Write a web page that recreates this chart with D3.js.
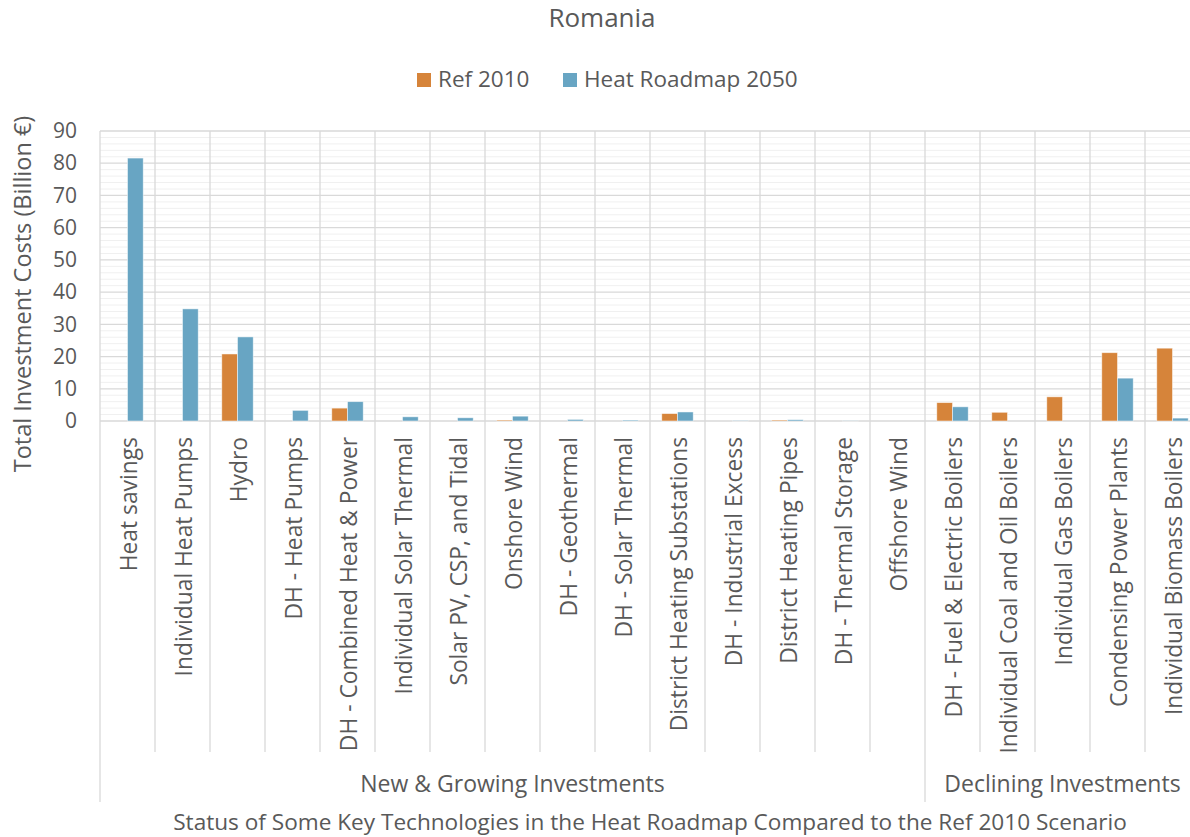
<!DOCTYPE html>
<html>
<head>
<meta charset="utf-8">
<script src="https://cdn.jsdelivr.net/npm/d3@7"></script>
<style>
  body { margin: 0; background: #fff; }
  svg text { font-family: "Open Sans", "Noto Sans", sans-serif; fill: #595959; }
</style>
</head>
<body>
<div id="chart"></div>
<script>
// Technologies, left to right
const categories = [
    "Heat savings", "Individual Heat Pumps", "Hydro", "DH - Heat Pumps",
    "DH - Combined Heat & Power", "Individual Solar Thermal", "Solar PV, CSP, and Tidal",
    "Onshore Wind", "DH - Geothermal", "DH - Solar Thermal", "District Heating Substations",
    "DH - Industrial Excess", "District Heating Pipes", "DH - Thermal Storage", "Offshore Wind",
    "DH - Fuel & Electric Boilers", "Individual Coal and Oil Boilers", "Individual Gas Boilers",
    "Condensing Power Plants", "Individual Biomass Boilers"
];

// Billion euro
const ref2010 = [0, 0, 20.8, 0, 4.0, 0, 0, 0.3, 0, 0, 2.3, 0, 0.3, 0, 0, 5.7, 2.7, 7.5, 21.2, 22.6];
const heatRoadmap2050 = [81.6, 34.8, 26.1, 3.3, 6.0, 1.3, 1.0, 1.5, 0.5, 0.3, 2.8, 0.1, 0.4, 0.05, 0, 4.4, 0, 0, 13.3, 0.9];

const seriesNames = ["Ref 2010", "Heat Roadmap 2050"];
const seriesColors = ["#d6843a", "#68a5c3"];

// Category groups: label and number of technologies
const groupNames = ["New & Growing Investments", "Declining Investments"];
const groupSizes = [15, 5];

const yTicks = [0, 10, 20, 30, 40, 50, 60, 70, 80, 90];

const width = 1190, height = 837;
const margin = {top: 131, left: 100, bottom: 421, right: 1200};

const svg = d3.select("#chart").append("svg")
    .attr("width", width)
    .attr("height", height);

// Scales
const x0 = d3.scaleBand()
    .domain(categories)
    .range([margin.left, margin.right])
    .padding(0);

const x1 = d3.scaleBand()
    .domain(seriesNames)
    .range([0, x0.bandwidth()])
    .paddingInner(0)
    .paddingOuter(0.75);

const y = d3.scaleLinear()
    .domain([0, 90])
    .range([margin.bottom, margin.top]);

// Minor gridlines every 2
svg.append("g")
    .selectAll("line")
    .data(d3.range(0, 91, 2).filter(v => v % 10 !== 0))
    .join("line")
        .attr("x1", margin.left)
        .attr("x2", margin.right)
        .attr("y1", d => y(d))
        .attr("y2", d => y(d))
        .attr("stroke", "#f0f0f0")
        .attr("stroke-width", 1);

// Major gridlines
svg.append("g")
    .selectAll("line")
    .data(yTicks)
    .join("line")
        .attr("x1", margin.left)
        .attr("x2", margin.right)
        .attr("y1", d => y(d))
        .attr("y2", d => y(d))
        .attr("stroke", "#d9d9d9")
        .attr("stroke-width", 1.3);

// Category separators
const boundaries = categories.map(c => x0(c)).concat([margin.right]);
const groupEdges = [0];
groupSizes.forEach((s, i) => groupEdges.push(groupEdges[i] + s));

svg.append("g")
    .selectAll("line")
    .data(boundaries)
    .join("line")
        .attr("x1", d => d)
        .attr("x2", d => d)
        .attr("y1", margin.top)
        .attr("y2", (d, i) => groupEdges.includes(i) ? 802 : 752)
        .attr("stroke", "#d9d9d9")
        .attr("stroke-width", 1.3);

// Bars
const barData = [];
categories.forEach((c, i) => {
    barData.push({category: c, series: seriesNames[0], value: ref2010[i], color: seriesColors[0]});
    barData.push({category: c, series: seriesNames[1], value: heatRoadmap2050[i], color: seriesColors[1]});
});

svg.append("g")
    .selectAll("rect")
    .data(barData.filter(d => d.value > 0))
    .join("rect")
        .attr("x", d => x0(d.category) + x1(d.series))
        .attr("y", d => y(d.value))
        .attr("width", x1.bandwidth())
        .attr("height", d => y(0) - y(d.value))
        .attr("fill", d => d.color)
        .attr("stroke", "#ffffff")
        .attr("stroke-opacity", 0.6)
        .attr("stroke-width", 0.8);

// Y axis
const yAxis = d3.axisLeft(y).tickValues(yTicks).tickSize(0).tickPadding(0);
const yAxisGroup = svg.append("g")
    .attr("transform", "translate(77,0)")
    .call(yAxis);
yAxisGroup.select(".domain").remove();
yAxisGroup.selectAll("text")
    .attr("x", 0)
    .style("font-size", "21px")
    .style("font-family", "'Open Sans', sans-serif")
    .attr("fill", "#595959");

// Y axis title
svg.append("text")
    .attr("transform", "translate(31," + ((margin.top + margin.bottom) / 2 + 18) + ") rotate(-90)")
    .attr("text-anchor", "middle")
    .style("font-size", "23.5px")
    .text("Total Investment Costs (Billion €)");

// Category labels (rotated)
svg.append("g")
    .selectAll("text")
    .data(categories)
    .join("text")
        .attr("transform", d => "translate(" + (x0(d) + x0.bandwidth() / 2 + 1) + ",437) rotate(-90)")
        .attr("text-anchor", "end")
        .attr("dy", "0.36em")
        .style("font-size", "22.8px")
        .text(d => d);

// Group labels
svg.append("g")
    .selectAll("text")
    .data(groupNames)
    .join("text")
        .attr("x", (d, i) => (boundaries[groupEdges[i]] + boundaries[groupEdges[i + 1]]) / 2)
        .attr("y", 792)
        .attr("text-anchor", "middle")
        .style("font-size", "23px")
        .text(d => d);

// X axis title
svg.append("text")
    .attr("x", (margin.left + margin.right) / 2)
    .attr("y", 830)
    .attr("text-anchor", "middle")
    .style("font-size", "22.6px")
    .text("Status of Some Key Technologies in the Heat Roadmap Compared to the Ref 2010 Scenario");

// Title
svg.append("text")
    .attr("x", 602)
    .attr("y", 27)
    .attr("text-anchor", "middle")
    .style("font-size", "26px")
    .text("Romania");

// Legend
const legendItems = [
    {name: seriesNames[0], color: seriesColors[0], x: 417},
    {name: seriesNames[1], color: seriesColors[1], x: 563}
];
const legend = svg.append("g")
    .selectAll("g")
    .data(legendItems)
    .join("g")
        .attr("transform", d => "translate(" + d.x + ",0)");
legend.append("rect")
    .attr("y", 73)
    .attr("width", 14)
    .attr("height", 14)
    .attr("fill", d => d.color);
legend.append("text")
    .attr("x", 21)
    .attr("y", 87)
    .style("font-size", "22.5px")
    .text(d => d.name);
</script>
</body>
</html>
